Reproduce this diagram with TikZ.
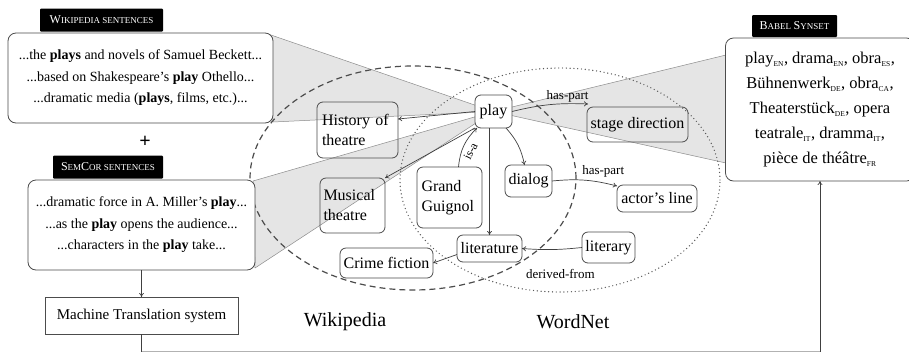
\documentclass[tikz,border=0pt]{standalone}
\usepackage{fontspec}
\setmainfont{Liberation Serif}
\usetikzlibrary{arrows.meta}
\newcommand{\lng}[1]{\textsubscript{\fontsize{7.5}{8}\selectfont #1}}
\newcommand{\fakesc}[2]{{\fontsize{12}{12}\selectfont #1}{\fontsize{9}{9}\selectfont #2}}
\begin{document}
\begin{tikzpicture}[x=1pt,y=-1pt,
 every node/.style={inner sep=0pt, outer sep=0pt},
 sentbox/.style={draw=black!70, line width=0.8pt, rounded corners=8pt, fill=white, align=center, font=\fontsize{14}{21.5}\selectfont},
 tagbox/.style={fill=black, text=white, rounded corners=1pt},
 gnode/.style={draw=black!70, line width=0.8pt, rounded corners=6pt, font=\fontsize{16}{20}\selectfont},
 edge/.style={draw=black!75, line width=0.7pt, -{To[length=4pt,width=5pt]}},
 plainline/.style={draw=black!75, line width=0.7pt},
 rel/.style={font=\fontsize{13}{13}\selectfont, inner sep=1.5pt},
 zoomtri/.style={fill=black, fill opacity=0.1, draw=black!45, line width=0.5pt, draw opacity=1},
]
\clip (0,0) rectangle (909,354);
\fill[white] (0,0) rectangle (909,354);

% anchor points of the zoom triangles
\coordinate (pc) at (493.5,111.5);
\coordinate (w1) at (268,34);
\coordinate (w2) at (273,122);
\coordinate (s1) at (253,181);
\coordinate (s2) at (255,268);
\coordinate (b1) at (726,55);
\coordinate (b2) at (726,163);

\path[zoomtri] (w1) -- (pc) -- (w2) -- cycle;
\path[zoomtri] (s1) -- (pc) -- (s2) -- cycle;
\path[zoomtri] (pc) -- (b1) -- (b2) -- cycle;

% Wikipedia and WordNet regions
\draw[black!70, line width=1.2pt, dash pattern=on 6pt off 4pt] (413,178) ellipse [x radius=163pt, y radius=112pt];
\draw[black!65, line width=1.4pt, line cap=round, dash pattern=on 0pt off 3.8pt] (560,180) ellipse [x radius=160pt, y radius=112pt];

% left column
\node[sentbox, minimum width=265pt, minimum height=90pt] (wiki) at (140.5,78)
 {...the \textbf{plays} and novels of Samuel Beckett...\\
  ...based on Shakespeare's \textbf{play} Othello...\\
  ...dramatic media (\textbf{plays}, films, etc.)...};
\node[tagbox, minimum width=123pt, minimum height=23pt] (wikitag) at (101.5,20) {\fakesc{W}{IKIPEDIA SENTENCES}};
\node[font=\fontsize{20}{20}\selectfont\bfseries] (plus) at (145,142) {+};
\node[sentbox, minimum width=227pt, minimum height=90pt] (semcor) at (141.5,225)
 {...dramatic force in A. Miller's \textbf{play}...\\
  ...as the \textbf{play} opens the audience...\\
  ...characters in the \textbf{play} take...};
\node[tagbox, minimum width=110pt, minimum height=23pt] (semtag) at (108,167) {\fakesc{S}{EM}\fakesc{C}{OR SENTENCES}};
\node[draw=black!70, line width=0.8pt, fill=white, minimum width=193pt, minimum height=37pt, font=\fontsize{15}{15}\selectfont] (mt) at (141.5,315.5) {Machine Translation system};

% Babel synset
\node[sentbox, minimum width=189pt, minimum height=143pt, font=\fontsize{16.5}{25}\selectfont] (babel) at (820,109.5)
 {play\lng{EN}, drama\lng{EN}, obra\lng{ES},\\
  Bühnenwerk\lng{DE}, obra\lng{CA},\\
  Theaterstück\lng{DE}, opera\\
  teatrale\lng{IT}, dramma\lng{IT},\\
  pièce de théâtre\lng{FR}};
\node[tagbox, minimum width=85pt, minimum height=22pt] (babeltag) at (794.5,26) {\fakesc{B}{ABEL} \fakesc{S}{YNSET}};

% graph nodes
\node[gnode, fill=white, minimum width=37pt, minimum height=33pt] (play) at (493.5,111.5) {play};
\node[gnode, minimum width=81pt, minimum height=56pt, align=left, text width=71pt] (hist) at (357.5,130) {History of\\theatre};
\node[gnode, minimum width=101pt, minimum height=35pt] (stage) at (637.5,124.5) {stage direction};
\node[gnode, minimum width=65pt, minimum height=55pt, align=left, text width=58pt] (musical) at (352.5,205.5) {Musical\\theatre};
\node[gnode, minimum width=65pt, minimum height=61pt, align=left, text width=56pt] (grand) at (449.5,197.5) {Grand\\Guignol};
\node[gnode, minimum width=47pt, minimum height=32pt] (dialog) at (528.5,181) {dialog};
\node[gnode, minimum width=80pt, minimum height=27pt] (actor) at (657,198.5) {actor's line};
\node[gnode, minimum width=65pt, minimum height=27pt] (lit) at (489.5,248.5) {literature};
\node[gnode, minimum width=53pt, minimum height=31pt] (literary) at (608.5,247.5) {literary};
\node[gnode, minimum width=93pt, minimum height=30pt] (crime) at (386.5,263) {Crime fiction};

% graph edges
\draw[edge] (play.west) -- ([yshift=11pt]hist.east);
\draw[edge] (play.south west) -- (musical.north east);
\draw[edge] ([xshift=9pt]grand.north) to[bend left=20] node[rel, pos=0.45, rotate=63, below=3pt, font=\fontsize{12}{12}\selectfont] {is-a} ([xshift=2pt]play.south west);
\draw[edge] ([xshift=-4pt]play.south) -- (lit.north);
\draw[edge] ([xshift=-6pt]play.south east) to[bend left=15] ([xshift=-4pt]dialog.north);
\draw[edge] (play.east) to[bend left=8] node[rel, pos=0.75, above] {has-part} ([xshift=1pt,yshift=3pt]stage.north west);
\draw[edge] (dialog.east) to[bend left=10] node[rel, pos=0.8, above=4pt] {has-part} ([yshift=-1pt]actor.north west);
\draw[edge] (literary.west) to[bend left=5] node[rel, pos=0.35, below=19pt] {derived-from} (lit.east);
\draw[edge] ([yshift=-6pt]lit.west) -- (crime.east);

% pipeline
\coordinate (c1) at (141.5,351.5);
\coordinate (c2) at (820,351.5);
\draw[edge] (semcor.south) -- (mt.north);
\draw[plainline] (mt.south) -- (c1);
\draw[black!30, line width=0.6pt] (c1) -- (c2);
\draw[edge] (c2) -- (babel.south);

% region labels
\node[font=\fontsize{20}{20}\selectfont] (wplabel) at (345,322) {Wikipedia};
\node[font=\fontsize{20}{20}\selectfont] (wnlabel) at (573,322) {WordNet};
\end{tikzpicture}
\end{document}
